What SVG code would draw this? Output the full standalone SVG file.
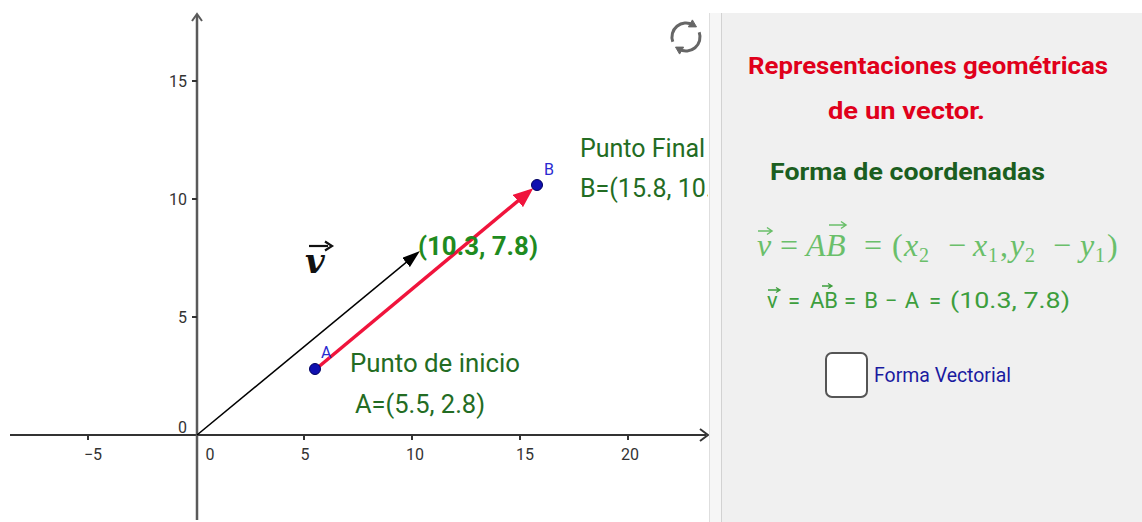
<svg xmlns="http://www.w3.org/2000/svg" width="1142" height="522" viewBox="0 0 1142 522">
<style>
.ax{font-family:Roboto,"Liberation Sans",sans-serif;font-size:16px;fill:#333}
.lbl{font-family:Roboto,"Liberation Sans",sans-serif;font-size:25px;fill:#236c23}
.pt{font-family:Roboto,"Liberation Sans",sans-serif;font-size:16px;fill:#2a2ad0}
.ttl{font-family:Roboto,"Liberation Sans",sans-serif;font-size:24px;font-weight:bold;fill:#e0001b}
.sub{font-family:Roboto,"Liberation Sans",sans-serif;font-size:24px;font-weight:bold;fill:#1b5e20}
.m1{font-family:"Liberation Serif","DejaVu Serif",serif;font-size:32px;fill:#6abf6a}
.m1i{font-style:italic}
.m1s{font-size:20px}
.m2{font-family:Roboto,"Liberation Sans",sans-serif;font-size:22px;fill:#3d9e3d}
.chk{font-family:Roboto,"Liberation Sans",sans-serif;font-size:20px;fill:#1a1aa0}
</style>
<defs>
<marker id="hBlack" markerUnits="userSpaceOnUse" markerWidth="18" markerHeight="12" refX="13" refY="6" orient="auto"><path d="M0,0 L18,6 L0,12 z" fill="#000"/></marker>
<marker id="hRed" markerUnits="userSpaceOnUse" markerWidth="20" markerHeight="16" refX="15" refY="8" orient="auto"><path d="M0,0 L20,8 L0,16 z" fill="#f0143c"/></marker>
<clipPath id="gclip"><rect x="0" y="0" width="708" height="522"/></clipPath>
</defs>
<rect x="0" y="0" width="1142" height="522" fill="#fff"/>

<g id="axes">
<line x1="10" y1="435" x2="706" y2="435" stroke="#333" stroke-width="2"/>
<polyline points="700,429 708,435 700,441" fill="none" stroke="#333" stroke-width="2"/>
<line x1="197" y1="520" x2="197" y2="15" stroke="#5a5a5a" stroke-width="2.5"/>
<polyline points="192,21 197,14 202,21" fill="none" stroke="#5a5a5a" stroke-width="2"/>
<g stroke="#333" stroke-width="2">
<line x1="88" y1="435" x2="88" y2="440"/><line x1="304" y1="435" x2="304" y2="440"/><line x1="412" y1="435" x2="412" y2="440"/><line x1="520" y1="435" x2="520" y2="440"/><line x1="628" y1="435" x2="628" y2="440"/>
<line x1="192" y1="81" x2="197" y2="81"/><line x1="192" y1="199" x2="197" y2="199"/><line x1="192" y1="317" x2="197" y2="317"/>
</g>
<g class="ax" text-anchor="middle">
<text x="93" y="460">−5</text><text x="210" y="460">0</text><text x="305" y="460">5</text><text x="415" y="460">10</text><text x="525" y="460">15</text><text x="630" y="460">20</text>
</g>
<g class="ax" text-anchor="end">
<text x="187" y="87">15</text><text x="187" y="205">10</text><text x="187" y="323">5</text><text x="187" y="433">0</text>
</g>
</g>

<g id="connectors">
<line id="vector-v" x1="197" y1="435" x2="416.1" y2="254.2" stroke="#000" stroke-width="1.6" marker-end="url(#hBlack)"/>
<line id="vector-AB" x1="316" y1="369" x2="529.4" y2="191.4" stroke="#f0143c" stroke-width="3.5" marker-end="url(#hRed)"/>
</g>

<g id="label-v">
<text x="305" y="273" font-family="'DejaVu Serif',serif" font-size="34" font-weight="bold" font-style="italic" fill="#111">v</text>
<line x1="309" y1="246" x2="328" y2="246" stroke="#111" stroke-width="2.2"/>
<path d="M325,241.5 L332,246 L325,250.5" fill="none" stroke="#111" stroke-width="2.2"/>
</g>

<g id="label-coords">
<text x="418" y="255" font-family="Roboto,'Liberation Sans',sans-serif" font-size="26" font-weight="bold" fill="#1f8b1f" textLength="120" lengthAdjust="spacingAndGlyphs">(10.3, 7.8)</text>
</g>

<g id="point-A">
<circle cx="315" cy="369" r="5.5" fill="#1010b0" stroke="#000060" stroke-width="1"/>
<text class="pt" x="321" y="358" font-size="15">A</text>
<text class="lbl" x="350" y="372" textLength="170" lengthAdjust="spacingAndGlyphs">Punto de inicio</text>
<text class="lbl" x="355" y="413" textLength="130" lengthAdjust="spacingAndGlyphs">A=(5.5, 2.8)</text>
</g>

<g id="point-B" clip-path="url(#gclip)">
<circle cx="537" cy="185" r="5.5" fill="#1010b0" stroke="#000060" stroke-width="1"/>
<text class="pt" x="544" y="175">B</text>
<text class="lbl" x="580" y="157">Punto Final</text>
<text class="lbl" x="580" y="197">B=(15.8, 10.6)</text>
</g>

<g id="refresh-icon" fill="none" stroke="#666" stroke-width="3">
<path d="M672.8,41.8 A14,14 0 0 1 693,24.9"/>
<path d="M696.5,26.9 L688.4,26.9 L692.4,19.9 z" fill="#666" stroke-width="1"/>
<path d="M699.2,32.2 A14,14 0 0 1 679,49.1"/>
<path d="M675.5,47.1 L683.6,47.1 L679.6,54.1 z" fill="#666" stroke-width="1"/>
</g>

<g id="panel">
<rect x="709" y="13" width="12" height="509" fill="#f6f6f6"/>
<line x1="709.5" y1="13" x2="709.5" y2="522" stroke="#dedede"/>
<rect x="721" y="13" width="421" height="509" fill="#f0f0f0"/>
<line x1="721.5" y1="13" x2="721.5" y2="522" stroke="#d2d2d2"/>
</g>

<g id="title">
<text class="ttl" x="748" y="74" textLength="360" lengthAdjust="spacingAndGlyphs">Representaciones geométricas</text>
<text class="ttl" x="828" y="119" textLength="157" lengthAdjust="spacingAndGlyphs">de un vector.</text>
</g>

<g id="subtitle">
<text class="sub" x="770" y="180" textLength="275" lengthAdjust="spacingAndGlyphs">Forma de coordenadas</text>
</g>

<g id="formula-1" class="m1">
<text x="757" y="256" class="m1i">v</text>
<path d="M758,231 H771 M767,227.5 L772,231 L767,234.5" fill="none" stroke="#6abf6a" stroke-width="1.5"/>
<text x="789" y="256" text-anchor="middle">=</text>
<text x="806" y="256" class="m1i">A</text>
<text x="826" y="256" class="m1i">B</text>
<path d="M829,225 H845 M841,221.5 L846,225 L841,228.5" fill="none" stroke="#6abf6a" stroke-width="1.5"/>
<text x="873" y="256" text-anchor="middle">=</text>
<text x="892" y="256">(</text>
<text x="904" y="256" class="m1i">x</text><text x="919" y="262" class="m1s">2</text>
<text x="957" y="256" text-anchor="middle">−</text>
<text x="973" y="256" class="m1i">x</text><text x="988" y="262" class="m1s">1</text><text x="1000" y="256">,</text>
<text x="1010" y="256" class="m1i">y</text><text x="1025" y="262" class="m1s">2</text>
<text x="1062" y="256" text-anchor="middle">−</text>
<text x="1080" y="256" class="m1i">y</text><text x="1095" y="262" class="m1s">1</text>
<text x="1107" y="256">)</text>
</g>

<g id="formula-2" class="m2">
<text x="767" y="308">v</text>
<path d="M768,290 H779 M776,287.5 L780,290 L776,292.5" fill="none" stroke="#3d9e3d" stroke-width="1.3"/>
<text x="794" y="308" text-anchor="middle">=</text>
<text x="810" y="308">AB</text>
<path d="M822,286 H831 M828,283.5 L832,286 L828,288.5" fill="none" stroke="#3d9e3d" stroke-width="1.3"/>
<text x="850" y="308" text-anchor="middle">=</text>
<text x="871" y="308" text-anchor="middle">B</text>
<text x="891" y="308" text-anchor="middle">−</text>
<text x="912" y="308" text-anchor="middle">A</text>
<text x="935" y="308" text-anchor="middle">=</text>
<text x="950" y="308" textLength="120" lengthAdjust="spacingAndGlyphs">(10.3, 7.8)</text>
</g>

<g id="checkbox-vectorial">
<rect x="826" y="353" width="41" height="44" rx="6" fill="#fff" stroke="#555" stroke-width="2"/>
<text class="chk" x="874" y="382" textLength="137" lengthAdjust="spacingAndGlyphs">Forma Vectorial</text>
</g>
</svg>
